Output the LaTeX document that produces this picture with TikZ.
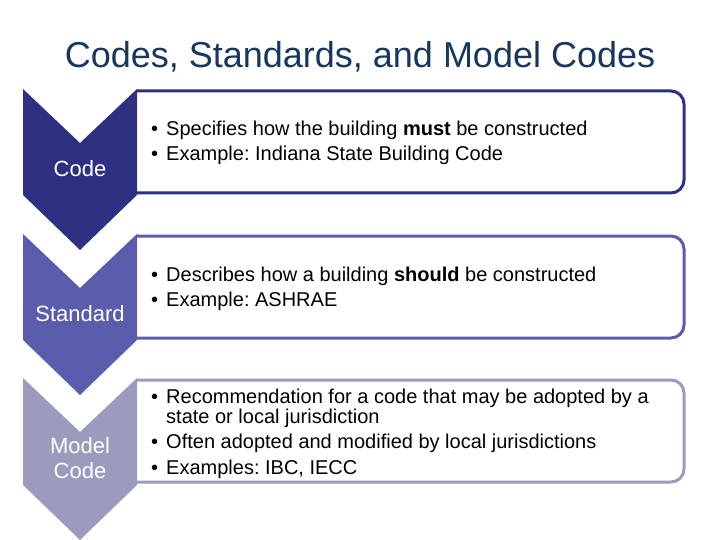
\documentclass[tikz,border=0pt]{standalone}
\usepackage{fontspec}
\setmainfont{Liberation Sans}
\frenchspacing
\definecolor{titlecol}{HTML}{17375E}
\definecolor{cA}{HTML}{2E3081}
\definecolor{cB}{HTML}{5A5DAD}
\definecolor{cC}{HTML}{9B9BBE}
\tikzset{
  chevlabel/.style={text=white, font=\fontsize{22}{25}\selectfont, align=center, inner sep=0pt},
  bodytext/.style={anchor=base west, font=\fontsize{20}{22}\selectfont, inner sep=0pt, text=black},
  bullet/.style={anchor=base west, font=\fontsize{20}{22}\selectfont, inner sep=0pt, text=black},
  boxline/.style={line width=3pt, rounded corners=13pt}
}
\begin{document}
\begin{tikzpicture}[x=1pt,y=-1pt]
\useasboundingbox (0,0) rectangle (720,540);
% title
\node[text=titlecol, font=\fontsize{36}{40}\selectfont, inner sep=0pt] (title) at (360,57) {Codes, Standards, and Model Codes};

% chevrons
\fill[cA] (23,89) -- (80,143) -- (137,89) -- (137,195) -- (80,250) -- (23,195) -- cycle;
\fill[cB] (23,234) -- (80,288) -- (137,234) -- (137,340) -- (80,395) -- (23,340) -- cycle;
\fill[cC] (23,378) -- (80,432) -- (137,378) -- (137,485) -- (80,540) -- (23,485) -- cycle;

\node[chevlabel] (lab1) at (80,169) {Code};
\node[chevlabel] (lab2) at (80,314) {Standard};
\node[chevlabel, font=\fontsize{22}{25}\selectfont] (lab3) at (80,458) {Model\\Code};

% boxes
\draw[boxline, cA] (137,91) -- (684,91) -- (684,193) -- (137,193);
\draw[boxline, cB] (137,236) -- (684,236) -- (684,338) -- (137,338);
\draw[boxline, cC] (137,380) -- (684,380) -- (684,482) -- (137,482);

% box 1 text
\node[bullet] (b11) at (151,136) {•};
\node[bodytext] (t11) at (166,136) {Specifies how the building \textbf{must} be constructed};
\node[bullet] (b12) at (151,161) {•};
\node[bodytext] (t12) at (166,161) {Example: Indiana State Building Code};

% box 2 text
\node[bullet] (b21) at (151,281) {•};
\node[bodytext] (t21) at (166,281) {Describes how a building \textbf{should} be constructed};
\node[bullet] (b22) at (151,306) {•};
\node[bodytext] (t22) at (166,306) {Example: ASHRAE};

% box 3 text
\node[bullet] (b31) at (151,403) {•};
\node[bodytext] (t31) at (166,403) {Recommendation for a code that may be adopted by a};
\node[bodytext] (t31b) at (166,423) {state or local jurisdiction};
\node[bullet] (b32) at (151,448) {•};
\node[bodytext] (t32) at (166,448) {Often adopted and modified by local jurisdictions};
\node[bullet] (b33) at (151,474) {•};
\node[bodytext] (t33) at (166,474) {Examples: IBC, IECC};
\end{tikzpicture}
\end{document}
